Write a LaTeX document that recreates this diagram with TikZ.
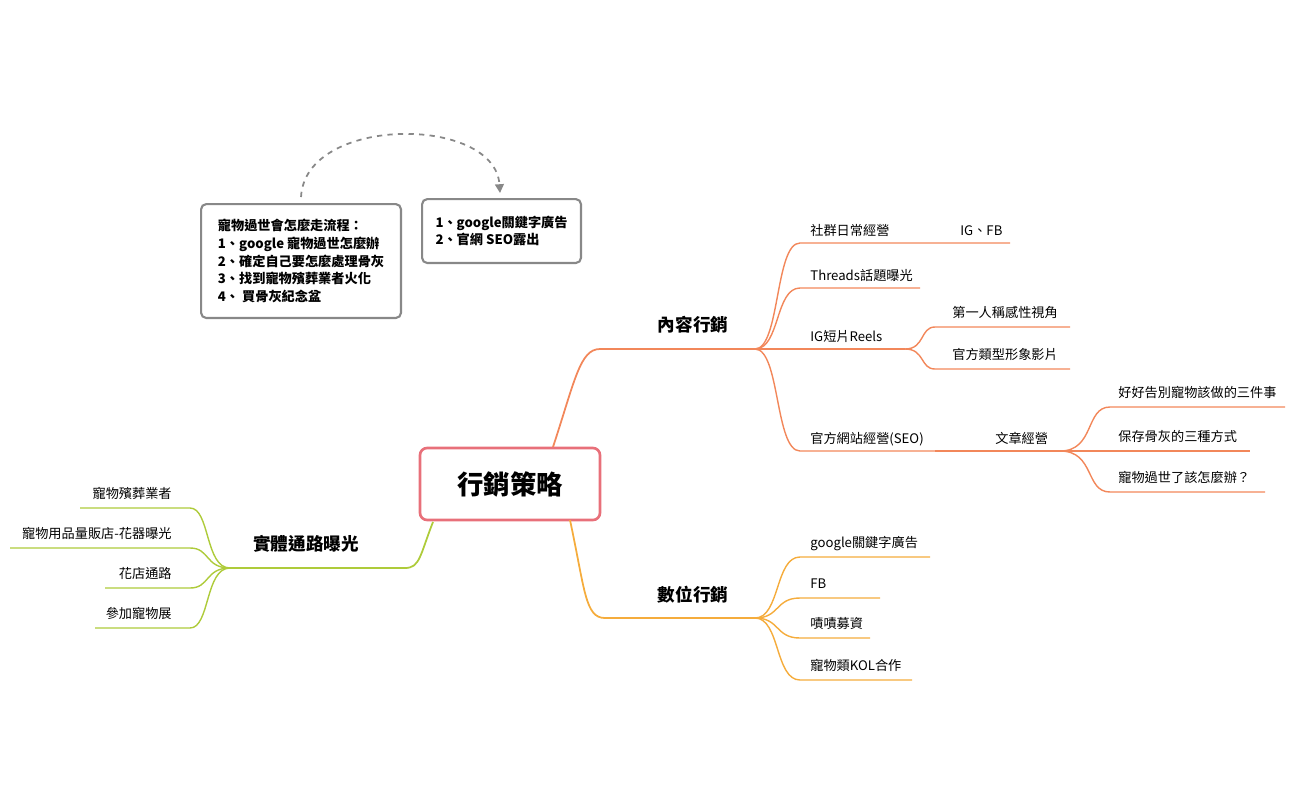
\documentclass[tikz,border=0pt]{standalone}
\usepackage{fontspec}
\setmainfont{Noto Sans CJK TC}
\usetikzlibrary{arrows.meta}
\definecolor{cred}{HTML}{E8707A}
\definecolor{corange}{HTML}{F2875A}
\definecolor{cyellow}{HTML}{F5AC3C}
\definecolor{cgreen}{HTML}{AECB3A}
\definecolor{cgray}{HTML}{888888}
\tikzset{
  lbl/.style={font=\fontsize{7.5}{9}\selectfont, anchor=base west, inner sep=0pt},
  mainlbl/.style={font=\bfseries\fontsize{10}{12}\selectfont, anchor=base, inner sep=0pt},
  notebox/.style={draw=cgray, line width=1.2pt, rounded corners=3pt, align=left,
    font=\bfseries\fontsize{7.5}{10}\selectfont, anchor=north west, inner sep=6pt},
  br/.style={line width=1pt},
  sub/.style={line width=0.8pt}
}
\begin{document}
\begin{tikzpicture}[x=0.02cm,y=-0.02cm]
\useasboundingbox (0,0) rectangle (1300,805);
% center
\node[draw=cred, line width=1.5pt, rounded corners=4pt, minimum width=3.6cm, minimum height=1.44cm,
  font=\bfseries\fontsize{15}{18}\selectfont] (center) at (510,484) {行銷策略};
% content marketing
\coordinate (c0) at (553,447);
\coordinate (c1) at (600,349);
\coordinate (c2) at (755,349);
\draw[corange, br] (c0) .. controls (575,380) and (580,349) .. (c1) -- (c2);
\node[mainlbl] (content) at (693,331) {內容行銷};
\foreach \y/\xe/\t/\n in {243/1010/社群日常經營/s1, 288/920/Threads話題曝光/s2, 349/905/IG短片Reels/s3, 451/935/官方網站經營(SEO)/s4}{
  \draw[corange, sub] (c2) .. controls (780,349) and (775,\y) .. (800,\y) -- (\xe,\y);
  \node[lbl] (\n) at (810,\y-8) {\t};
}
\node[lbl] (igfb) at (960,235) {IG、FB};
\coordinate (r1) at (905,349);
\foreach \y/\t/\n in {327/第一人稱感性視角/r2, 369/官方類型形象影片/r3}{
  \draw[corange, sub] (r1) .. controls (925,349) and (920,\y) .. (935,\y) -- (1070,\y);
  \node[lbl] (\n) at (952,\y-10) {\t};
}
\draw[corange, sub] (935,451) -- (1060,451);
\node[lbl] (article) at (995,443) {文章經營};
\coordinate (a1) at (1060,451);
\foreach \y/\xe/\t/\n in {407/1285/好好告別寵物該做的三件事/a2, 451/1250/保存骨灰的三種方式/a3, 492/1265/寵物過世了該怎麼辦？/a4}{
  \draw[corange, sub] (a1) .. controls (1095,451) and (1085,\y) .. (1110,\y) -- (\xe,\y);
  \node[lbl] (\n) at (1118,\y-10) {\t};
}
% digital marketing
\coordinate (d0) at (570,520);
\coordinate (d1) at (605,618);
\coordinate (d2) at (755,618);
\draw[cyellow, br] (d0) .. controls (585,590) and (585,618) .. (d1) -- (d2);
\node[mainlbl] (digital) at (693,601) {數位行銷};
\foreach \y/\xe/\t/\n in {557/930/google關鍵字廣告/g1, 598/880/FB/IG廣告/g2, 638/870/嘖嘖募資/g3, 680/912/寵物類KOL合作/g4}{
  \draw[cyellow, sub] (d2) .. controls (780,618) and (775,\y) .. (800,\y) -- (\xe,\y);
  \node[lbl] (\n) at (810,\y-10) {\t};
}
% physical channels
\coordinate (p0) at (433,522);
\coordinate (p1) at (405,568);
\coordinate (p2) at (230,568);
\draw[cgreen, br] (p0) .. controls (420,555) and (420,568) .. (p1) -- (p2);
\node[mainlbl] (physical) at (306,550) {實體通路曝光};
\foreach \y/\xs/\t/\n in {508/80/寵物殯葬業者/h1, 548/10/寵物用品量販店-花器曝光/h2, 588/105/花店通路/h3, 628/95/參加寵物展/h4}{
  \draw[cgreen, sub] (p2) .. controls (205,568) and (210,\y) .. (190,\y) -- (\xs,\y);
  \node[lbl, anchor=base east] (\n) at (172,\y-10) {\t};
}
% notes
\node[notebox, minimum width=4cm, minimum height=2.28cm, anchor=north west] (note1) at (200,203)
  {寵物過世會怎麼走流程：\\1、google 寵物過世怎麼辦\\2、確定自己要怎麼處理骨灰\\3、找到寵物殯葬業者火化\\4、 買骨灰紀念盆};
\node[notebox, minimum width=3.18cm, minimum height=1.28cm] (note2) at (421,198)
  {1、google關鍵字廣告\\2、官網 SEO露出};
\draw[cgray, line width=1pt, dashed, -{Triangle[length=5pt,width=5pt]}]
  ([xshift=0pt]note1.north) ++(0,-6) .. controls (305,115) and (495,115) .. (500,193);
\end{tikzpicture}
\end{document}
